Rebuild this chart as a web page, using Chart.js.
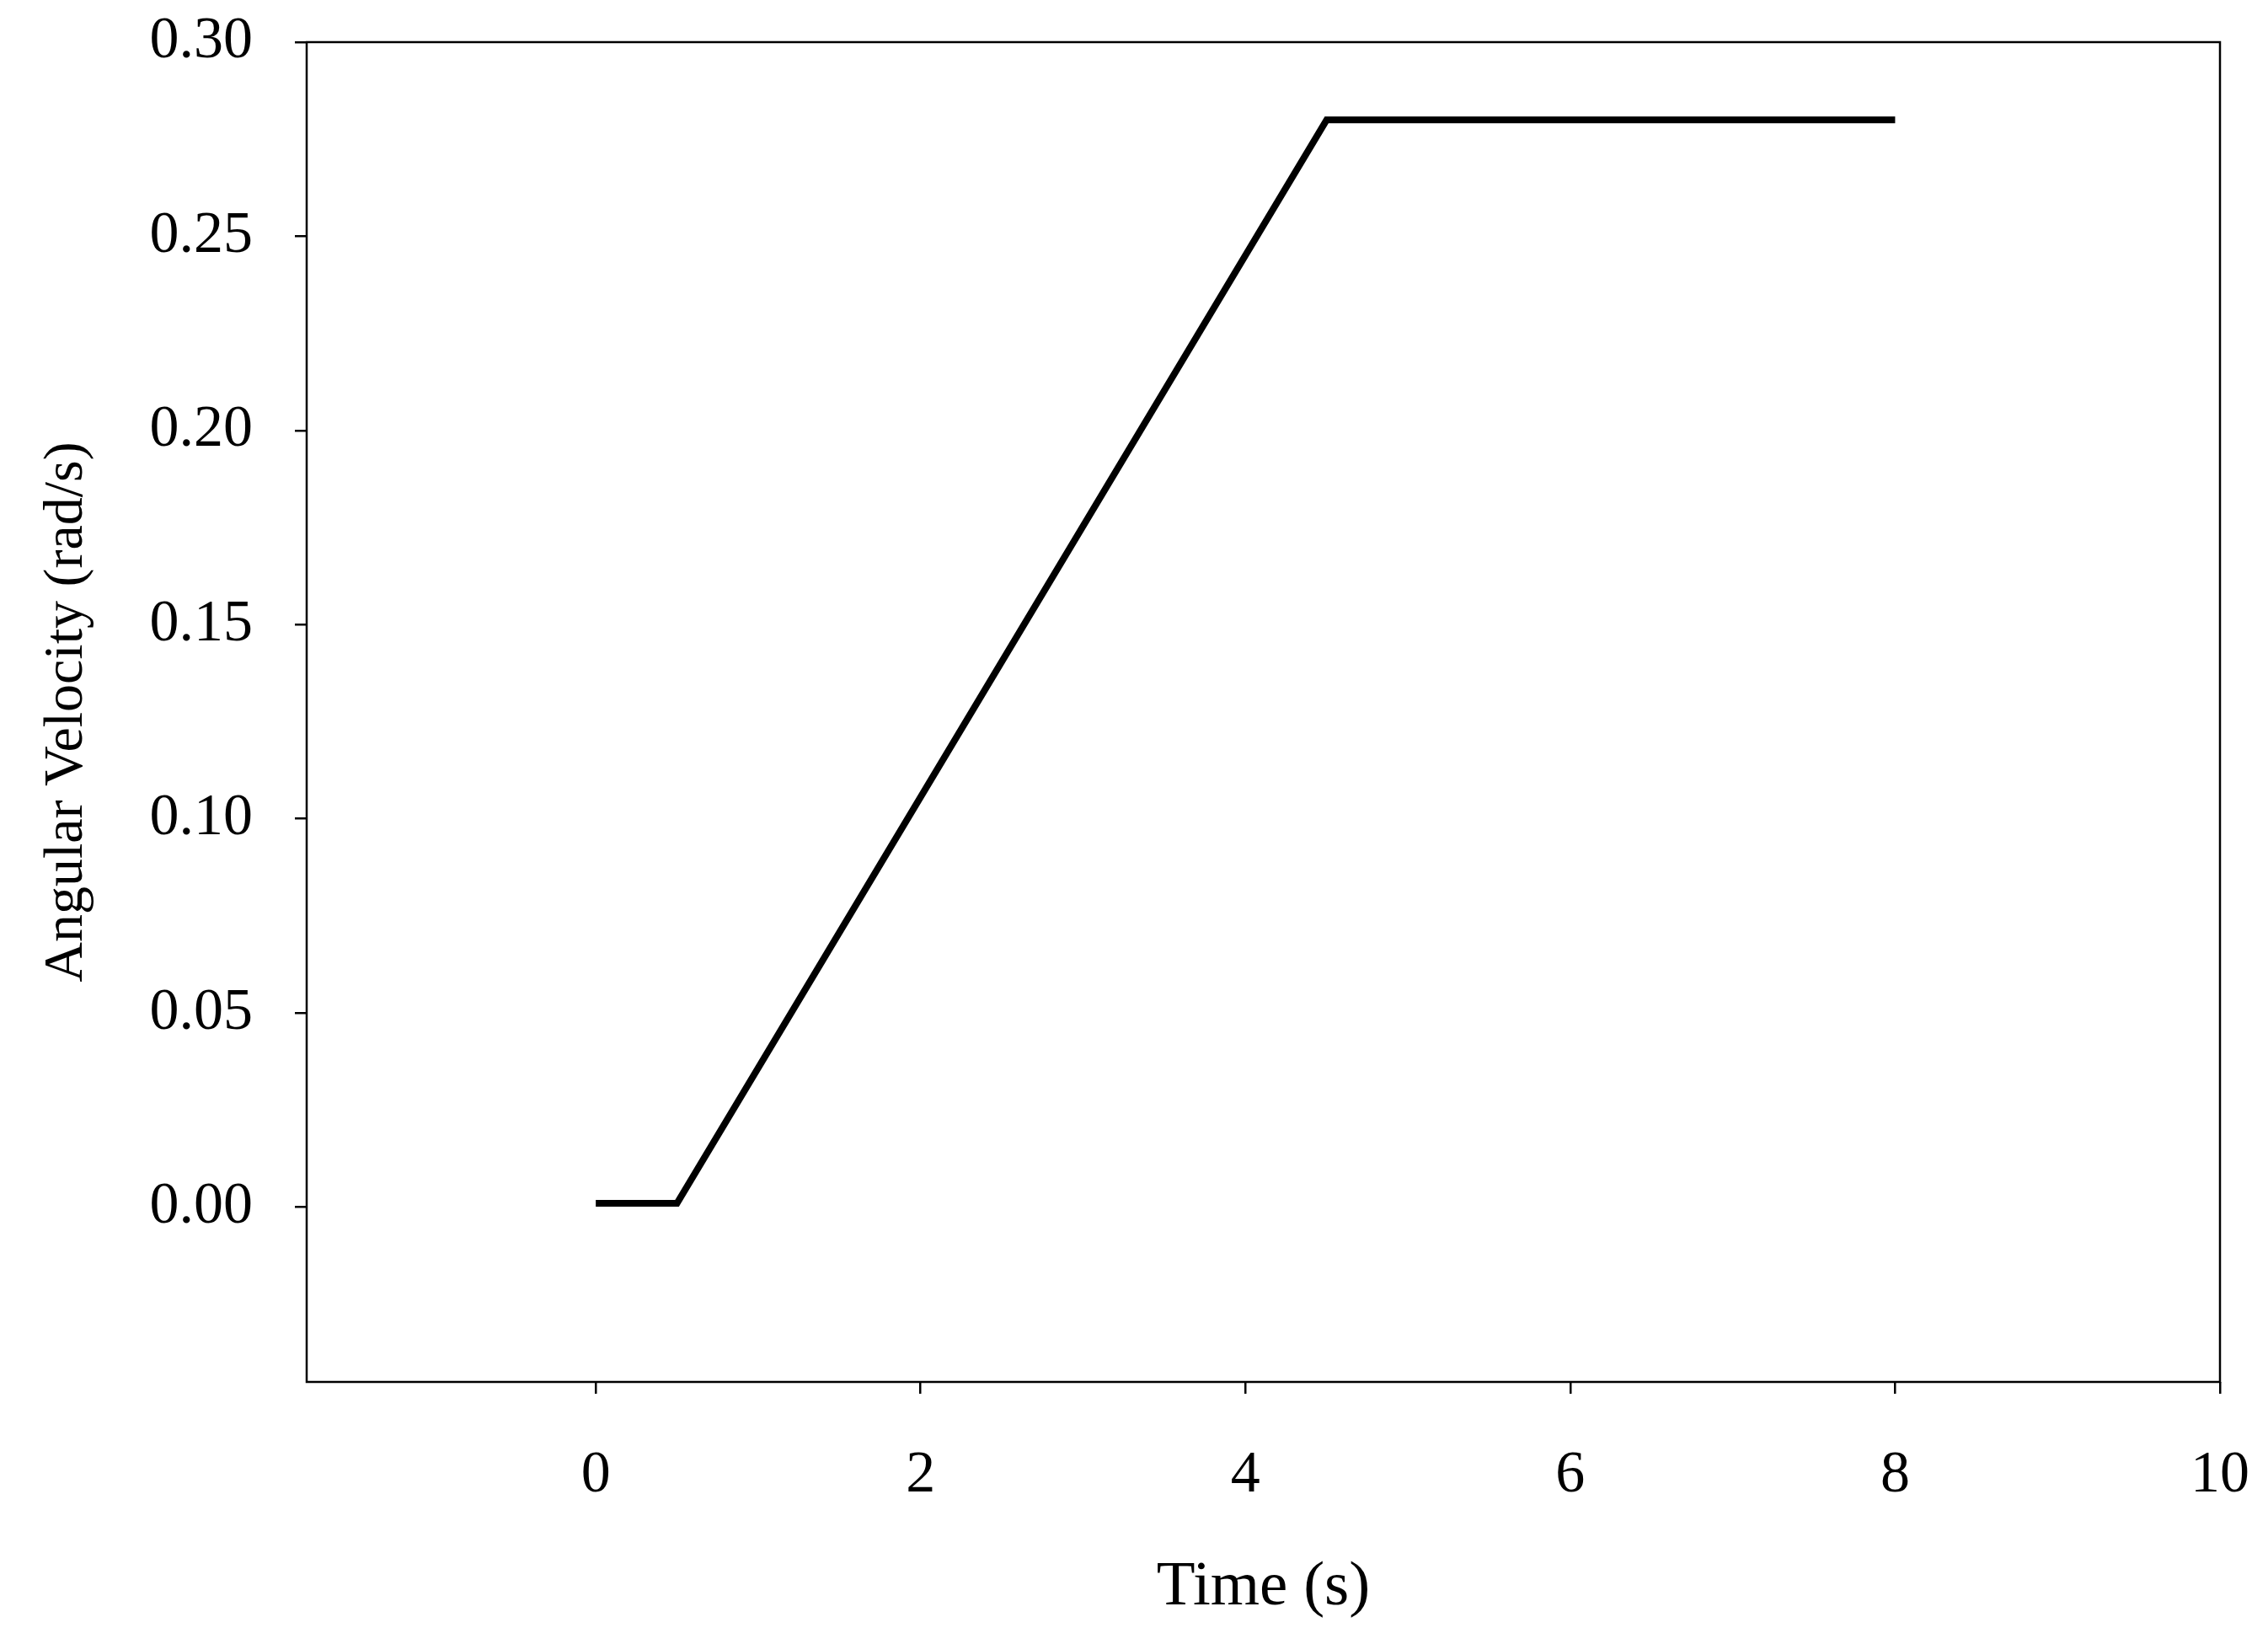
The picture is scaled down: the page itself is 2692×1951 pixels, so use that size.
<!DOCTYPE html>
<html><head><meta charset="utf-8">
<script src="https://cdn.jsdelivr.net/npm/chart.js@4/dist/chart.umd.min.js"></script>
<style>html,body{margin:0;padding:0;background:#fff}#wrap{width:2692px;height:1951px}</style>
</head><body><div id="wrap"><canvas id="c"></canvas></div>
<script>
const timeS = [0, 0.5, 4.5, 8];
const angVel = [0.001, 0.001, 0.28, 0.28];
const xTicks = [0, 2, 4, 6, 8, 10];
const yTicks = [0.00, 0.05, 0.10, 0.15, 0.20, 0.25, 0.30];
const FONT = "'Liberation Serif','Times New Roman',serif";
const frame = {id:'frame', afterDraw(c){const a=c.chartArea,x=c.ctx;x.save();x.strokeStyle='#000';x.lineWidth=2.5;x.strokeRect(a.left,a.top,a.right-a.left,a.bottom-a.top);x.restore();}};
new Chart(document.getElementById('c'), {
  type:'line',
  data:{datasets:[{data:timeS.map((t,i)=>({x:t,y:angVel[i]})),borderColor:'#000',borderWidth:8,pointRadius:0,tension:0,fill:false}]},
  options:{responsive:true,maintainAspectRatio:false,animation:false,
    layout:{padding:{left:40,top:50,right:57,bottom:10}},
    plugins:{legend:{display:false},tooltip:{enabled:false}},
    scales:{
      x:{type:'linear',min:-1.78,max:10,
        afterBuildTicks:s=>{s.ticks=xTicks.map(v=>({value:v}));},
        afterFit:s=>{s.height=301;s.paddingLeft=0;s.paddingRight=0;},
        grid:{drawOnChartArea:false,tickLength:14,color:'#000',lineWidth:2.5},border:{display:false},
        ticks:{padding:56,color:'#000',font:{family:FONT,size:70},callback:v=>String(v)},
        title:{display:true,text:'Time (s)',color:'#000',font:{family:FONT,size:75},padding:{top:30,bottom:12}}},
      y:{type:'linear',min:-0.045,max:0.30,
        afterBuildTicks:s=>{s.ticks=yTicks.map(v=>({value:v}));},
        afterFit:s=>{s.width=324;s.paddingTop=0;s.paddingBottom=0;},
        grid:{drawOnChartArea:false,tickLength:14,color:'#000',lineWidth:2.5},border:{display:false},
        ticks:{padding:50,color:'#000',font:{family:FONT,size:70},callback:v=>v.toFixed(2)},
        title:{display:true,text:'Angular Velocity (rad/s)',color:'#000',font:{family:FONT,size:66},padding:0}}
    }},
  plugins:[frame]
});
</script></body></html>
